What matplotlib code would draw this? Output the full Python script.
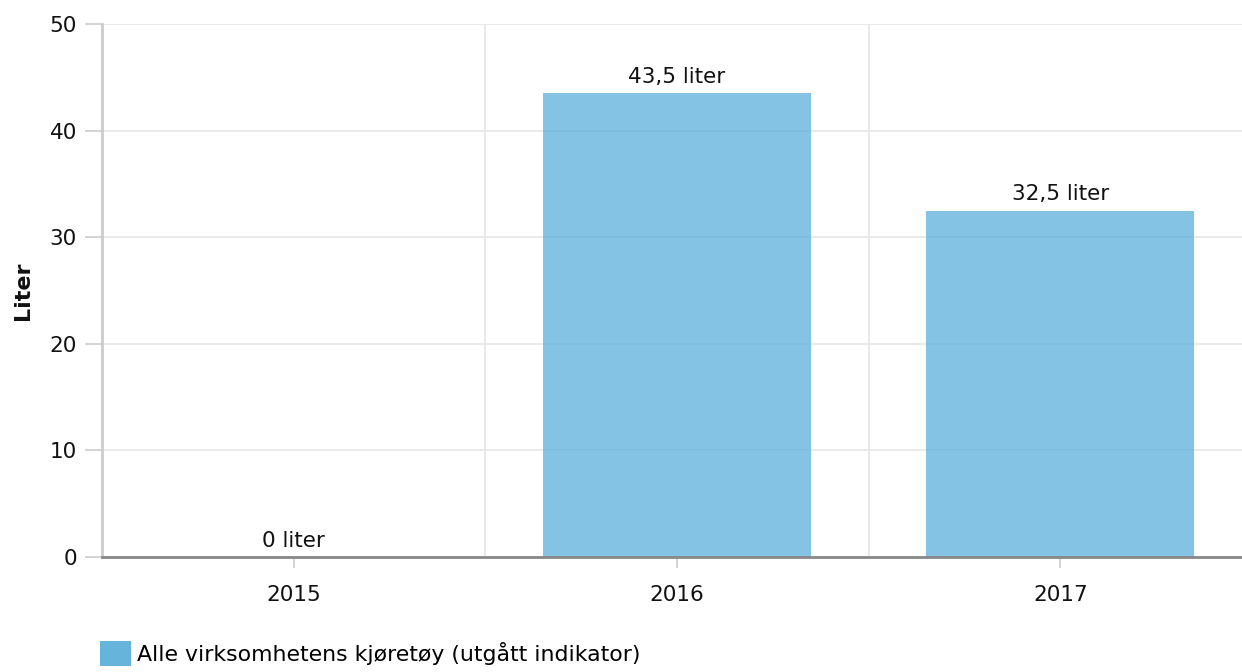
import matplotlib
matplotlib.use("Agg")
import matplotlib.pyplot as plt
from matplotlib.patches import Patch
import numpy as np

categories = ["2015", "2016", "2017"]
values = [0, 43.5, 32.5]
value_labels = ["0 liter", "43,5 liter", "32,5 liter"]
series_name = "Alle virksomhetens kjøretøy (utgått indikator)"
y_ticks = [0, 10, 20, 30, 40, 50]

plt.rcParams['font.family'] = ['DejaVu Sans']
fig = plt.figure(figsize=(12.42, 6.72), dpi=100)
ax = fig.add_axes([102/1242, 1 - 557/672, (1242-102)/1242, (557-24)/672])

x = np.arange(len(categories))
ax.bar(x, values, width=0.70, color='#66b4dc', alpha=0.8, zorder=3)
for xi, v, lab in zip(x, values, value_labels):
    ax.annotate(lab, (xi, v), xytext=(0, 4.5), textcoords='offset points',
                ha='center', va='bottom', fontsize=15.5, color='#111111', zorder=4)

ax.set_xlim(-0.5, 2.474)
ax.set_ylim(0, 50)
ax.set_yticks(y_ticks)
ax.set_xticks(x)
ax.set_xticklabels(categories)
ax.set_xticks([0.5, 1.5], minor=True)
ax.grid(axis='y', which='major', color='#e6e6e6', linewidth=1.2, zorder=0)
ax.grid(axis='x', which='minor', color='#e6e6e6', linewidth=1.2, zorder=0)
ax.tick_params(axis='x', which='minor', length=0)
ax.tick_params(axis='y', length=12, width=1.2, color='#cccccc', labelsize=15.5, pad=6, labelcolor='#111111')
ax.tick_params(axis='x', which='major', length=8, width=1.2, color='#cccccc', labelsize=15.5, pad=12, labelcolor='#111111')

for s in ['top', 'right']:
    ax.spines[s].set_visible(False)
ax.spines['left'].set_color('#cccccc')
ax.spines['left'].set_linewidth(2)
ax.spines['bottom'].set_color('#888888')
ax.spines['bottom'].set_linewidth(2)
ax.spines['bottom'].set_zorder(5)

ax.set_ylabel("Liter", fontsize=16, fontweight='bold', color='#111111')
ax.yaxis.set_label_coords(-69/1140, 0.5)

handle = Patch(facecolor='#66b4dc', edgecolor='none')
fig.legend([handle], [series_name], loc='lower left', bbox_to_anchor=(91/1242, -3/672),
           frameon=False, fontsize=15.8, handlelength=1.4, handleheight=1.4,
           handletextpad=0.3, borderaxespad=0)

fig.savefig("out.png", dpi=100)
